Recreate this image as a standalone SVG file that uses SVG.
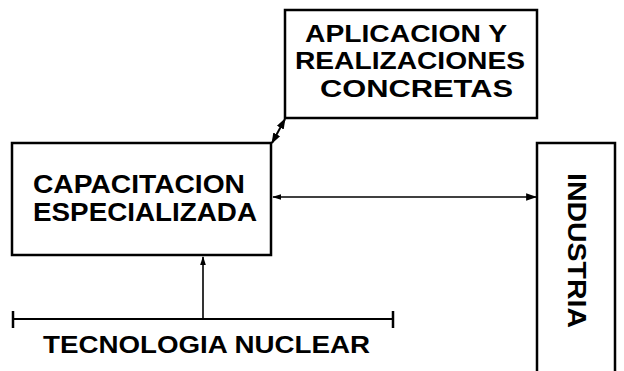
<svg xmlns="http://www.w3.org/2000/svg" width="624" height="371" viewBox="0 0 624 371">
<style>
.box{fill:#fff;stroke:#000;stroke-width:2.5}
.t{font-family:"Liberation Sans",Arial,sans-serif;font-weight:bold;font-size:26px;fill:#000}
.s{font-size:24px}
.c{stroke:#000;stroke-width:1.6;fill:none}
</style>
<defs>
<marker id="ah" viewBox="0 0 10 10" refX="9" refY="5" markerWidth="9" markerHeight="9" markerUnits="userSpaceOnUse" orient="auto-start-reverse">
<path d="M0,1.8 L10,5 L0,8.2 z" fill="#000"/>
</marker>
<marker id="ah2" viewBox="0 0 10 10" refX="9" refY="5" markerWidth="11" markerHeight="11" markerUnits="userSpaceOnUse" orient="auto-start-reverse">
<path d="M0,1.5 L10,5 L0,8.5 z" fill="#000"/>
</marker>
</defs>
<g id="aplicacion">
<rect class="box" x="285" y="10" width="252" height="108"/>
<text class="t s" x="305" y="42" textLength="202" lengthAdjust="spacingAndGlyphs">APLICACION Y</text>
<text class="t s" x="295" y="69" textLength="230" lengthAdjust="spacingAndGlyphs">REALIZACIONES</text>
<text class="t s" x="320" y="97" textLength="193" lengthAdjust="spacingAndGlyphs">CONCRETAS</text>
</g>
<g id="capacitacion">
<rect class="box" x="12" y="143" width="259" height="112"/>
<text class="t" x="33" y="193" textLength="212" lengthAdjust="spacingAndGlyphs">CAPACITACION</text>
<text class="t" x="33" y="221" textLength="224" lengthAdjust="spacingAndGlyphs">ESPECIALIZADA</text>
</g>
<g id="industria">
<path class="box" d="M537,373 L537,143 L615,143 L615,373"/>
<text class="t" transform="translate(568,250.5) rotate(90)" text-anchor="middle" textLength="155" lengthAdjust="spacingAndGlyphs">INDUSTRIA</text>
</g>
<g id="tecnologia">
<line class="c" x1="13" y1="319" x2="393" y2="319" style="stroke-width:2"/>
<line class="c" x1="13" y1="311" x2="13" y2="328" style="stroke-width:2.5"/>
<line class="c" x1="393" y1="311" x2="393" y2="328" style="stroke-width:2.5"/>
<text class="t s" x="43" y="353" textLength="327" lengthAdjust="spacingAndGlyphs">TECNOLOGIA NUCLEAR</text>
</g>
<g id="connectors">
<line class="c" x1="272" y1="143" x2="285" y2="119" marker-start="url(#ah2)" marker-end="url(#ah2)" style="stroke-width:2"/>
<line class="c" x1="273" y1="197" x2="536" y2="197" marker-start="url(#ah)" marker-end="url(#ah2)"/>
<line class="c" x1="203" y1="319" x2="203" y2="257" marker-end="url(#ah)"/>
</g>
</svg>
